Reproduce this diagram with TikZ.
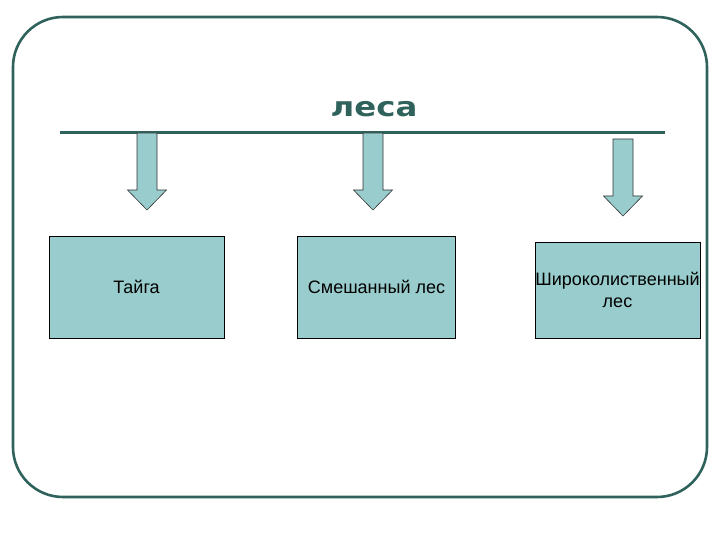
\documentclass[tikz,border=0pt]{standalone}
\usepackage{fontspec}
\setmainfont{Liberation Sans}
\newfontfamily\heavyfont{DejaVu Sans}
\usetikzlibrary{positioning}
\definecolor{pine}{RGB}{48,98,92}
\definecolor{mint}{RGB}{153,204,204}
\tikzset{
  frame/.style={draw=pine,line width=2.6pt,rounded corners=50pt},
  bar/.style={draw=pine,line width=3pt},
  title/.style={text=pine,font=\heavyfont\fontsize{27}{30}\selectfont\bfseries,inner sep=0pt},
  kind/.style={draw=black,fill=mint,line width=0.8pt,align=center,
    font=\fontsize{18}{22}\selectfont,inner sep=0pt},
  % block arrow, tip at the origin
  pics/down/.style={code={
    \draw[fill=mint,draw=black!80,line width=0.6pt]
      (-10,-#1) -- (10,-#1) -- (10,-20) -- (19.5,-20) -- (0,0)
      -- (-19.5,-20) -- (-10,-20) -- cycle;
  }},
  pics/down/.default=77,
}
\begin{document}
\begin{tikzpicture}[x=1pt,y=-1pt]
  \useasboundingbox (0,0) rectangle (720,540);
  \draw[frame] (13,17) rectangle (707,497);
  % heading and bar
  \node[title] (lesa) at (374,109) {\scalebox{1.2}[1]{леса}};
  \coordinate (barL) at (60,133);
  \coordinate (barR) at (665,133);
  \draw[bar] (barL) -- (barR);
  % kinds of forest
  \node[kind,minimum width=175pt,minimum height=102pt] (taiga) at (136.5,287) {Тайга};
  \node[kind,minimum width=158pt,minimum height=102pt] (mixed) at (376.5,287) {Смешанный лес};
  \node[kind,minimum width=165pt,minimum height=96pt] (broad) at (617.5,290) {Широколиственный\\лес};
  % arrows
  \pic at (147,210) {down};
  \pic at (373,210) {down};
  \pic at (623,216) {down};
\end{tikzpicture}
\end{document}
